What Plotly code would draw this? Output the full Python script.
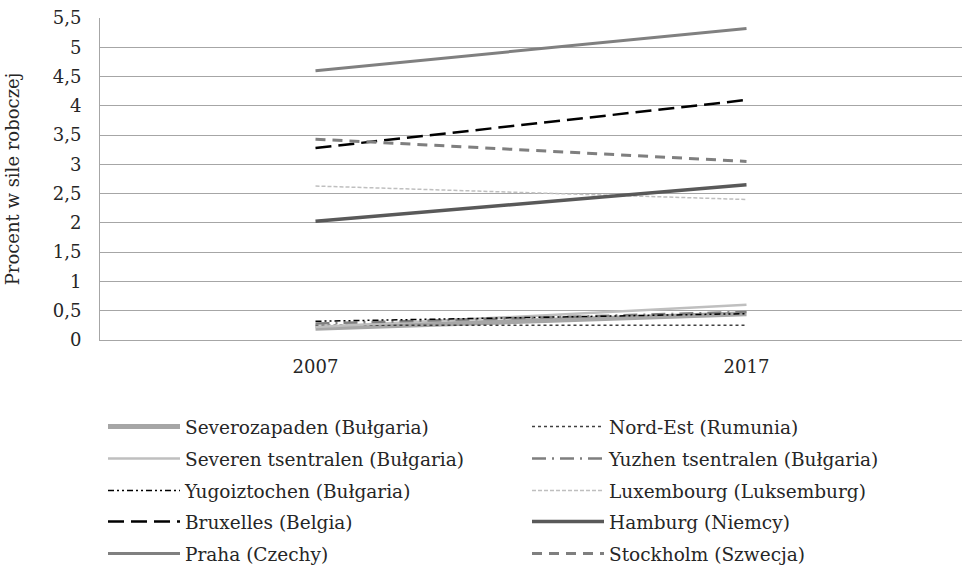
import plotly.graph_objects as go

years = ["2007", "2017"]
names = ["Severozapaden (Bułgaria)", "Nord-Est (Rumunia)", "Severen tsentralen (Bułgaria)",
         "Yuzhen tsentralen (Bułgaria)", "Yugoiztochen (Bułgaria)", "Luxembourg (Luksemburg)",
         "Bruxelles (Belgia)", "Hamburg (Niemcy)", "Praha (Czechy)", "Stockholm (Szwecja)"]
severozapaden = [0.20, 0.45]
nord_est = [0.25, 0.25]
severen = [0.22, 0.60]
yuzhen = [0.28, 0.48]
yugoiztochen = [0.32, 0.45]
luxembourg = [2.63, 2.40]
bruxelles = [3.28, 4.10]
hamburg = [2.03, 2.65]
praha = [4.60, 5.32]
stockholm = [3.43, 3.05]
values = [severozapaden, nord_est, severen, yuzhen, yugoiztochen, luxembourg,
          bruxelles, hamburg, praha, stockholm]
styles = [
    dict(color="#A6A6A6", width=5, dash="solid"),
    dict(color="#404040", width=1.5, dash="dot"),
    dict(color="#BFBFBF", width=2.5, dash="solid"),
    dict(color="#7F7F7F", width=2.5, dash="14px,6px,2px,6px"),
    dict(color="#000000", width=1.5, dash="6px,3px,2px,3px,2px,3px"),
    dict(color="#BFBFBF", width=1.5, dash="4px,2px"),
    dict(color="#000000", width=2.5, dash="16px,7px"),
    dict(color="#595959", width=3.5, dash="solid"),
    dict(color="#808080", width=3, dash="solid"),
    dict(color="#7F7F7F", width=3, dash="10px,7px"),
]

font = "DejaVu Serif"
txt = "#262626"
fig = go.Figure()
legend_ids = ["legend", "legend2", "legend3", "legend4", "legend5"]
for i, (n, v, s) in enumerate(zip(names, values, styles)):
    fig.add_trace(go.Scatter(x=years, y=v, mode="lines", name=n, line=s,
                             legend=legend_ids[i // 2]))

row_y = [427, 459, 491, 522, 554]
layout_legends = {}
for lid, yc in zip(legend_ids, row_y):
    layout_legends[lid] = dict(orientation="h", xref="container", yref="container",
                               x=103 / 963, y=1 - yc / 584, xanchor="left", yanchor="middle",
                               entrywidth=337, itemwidth=72, bgcolor="rgba(0,0,0,0)",
                               font=dict(family=font, size=18.5, color=txt),
                               traceorder="normal")

fig.update_layout(
    width=963, height=584,
    margin=dict(l=100, r=1, t=18, b=244),
    paper_bgcolor="white", plot_bgcolor="white",
    font=dict(family=font, size=18, color=txt),
    showlegend=True,
    separators=", ",
    xaxis=dict(type="category", range=[-0.5, 1.5], showgrid=False,
               showline=True, linecolor="#A6A6A6", linewidth=1, ticks="",
               tickfont=dict(size=18, color=txt), ticklabelstandoff=10),
    yaxis=dict(range=[0, 5.5], dtick=0.5, showgrid=True, gridcolor="#A6A6A6", gridwidth=1,
               showline=True, linecolor="#A6A6A6", linewidth=1, zeroline=False,
               tickformat=".1~f", ticklabelstandoff=14,
               title=dict(text="Procent w sile roboczej", font=dict(size=18, color=txt),
                          standoff=28),
               tickfont=dict(size=18, color=txt)),
    **layout_legends,
)
fig.write_html("out.html", config={"displayModeBar": False},
               post_script="document.body.style.margin='0';")
